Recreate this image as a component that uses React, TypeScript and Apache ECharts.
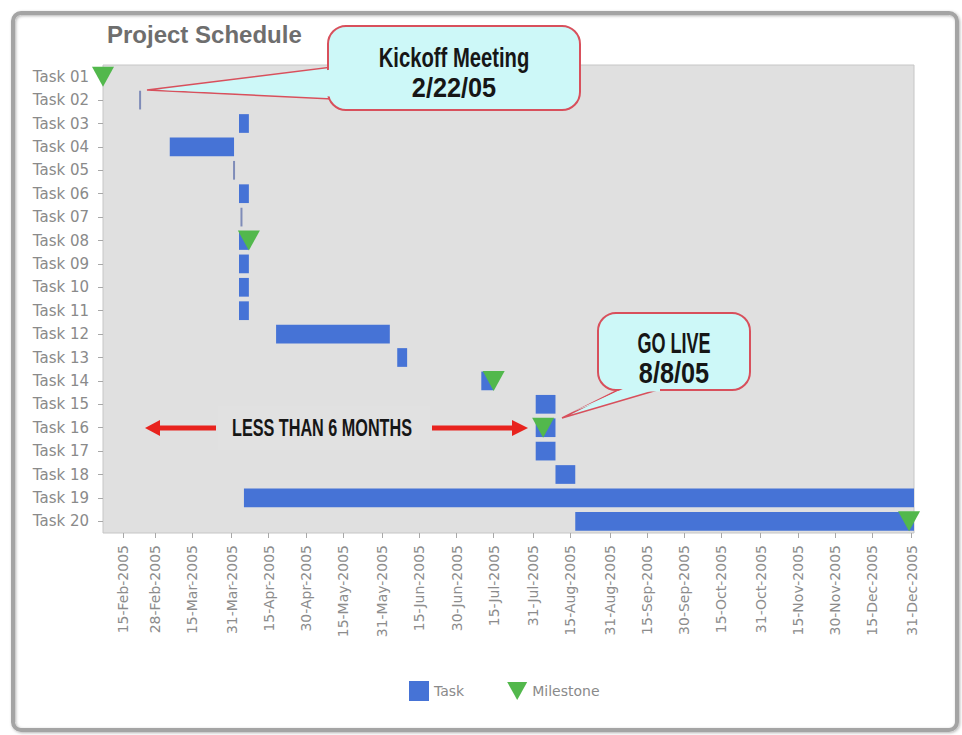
import React, { useEffect, useRef } from 'react';
import * as echarts from 'echarts';

// ---------- data ----------
const taskNames = [
  'Task 01', 'Task 02', 'Task 03', 'Task 04', 'Task 05', 'Task 06', 'Task 07', 'Task 08', 'Task 09', 'Task 10',
  'Task 11', 'Task 12', 'Task 13', 'Task 14', 'Task 15', 'Task 16', 'Task 17', 'Task 18', 'Task 19', 'Task 20',
];
const taskStarts: (string | null)[] = [
  null, '2005-02-22', '2005-04-03', '2005-03-06', '2005-04-01', '2005-04-03', '2005-04-04', '2005-04-03', '2005-04-03', '2005-04-03',
  '2005-04-03', '2005-04-18', '2005-06-06', '2005-07-10', '2005-08-01', '2005-08-01', '2005-08-01', '2005-08-09', '2005-04-05', '2005-08-17',
];
const taskEnds: (string | null)[] = [
  null, '2005-02-22', '2005-04-07', '2005-04-01', '2005-04-01', '2005-04-07', '2005-04-04', '2005-04-07', '2005-04-07', '2005-04-07',
  '2005-04-07', '2005-06-03', '2005-06-10', '2005-07-15', '2005-08-09', '2005-08-09', '2005-08-09', '2005-08-17', '2006-01-01', '2006-01-01',
];
const milestoneTasks = ['Task 01', 'Task 08', 'Task 14', 'Task 16', 'Task 20'];
const milestoneDates = ['2005-02-07', '2005-04-07', '2005-07-15', '2005-08-04', '2005-12-30'];
const tickDates = [
  '2005-02-15', '2005-02-28', '2005-03-15', '2005-03-31', '2005-04-15', '2005-04-30', '2005-05-15', '2005-05-31',
  '2005-06-15', '2005-06-30', '2005-07-15', '2005-07-31', '2005-08-15', '2005-08-31', '2005-09-15', '2005-09-30',
  '2005-10-15', '2005-10-31', '2005-11-15', '2005-11-30', '2005-12-15', '2005-12-31',
];
const axisStartDate = '2005-02-07';
const axisEndDate = '2006-01-01';
const monthNames = ['Jan', 'Feb', 'Mar', 'Apr', 'May', 'Jun', 'Jul', 'Aug', 'Sep', 'Oct', 'Nov', 'Dec'];
const titleText = 'Project Schedule';
const kickoffLines = ['Kickoff Meeting', '2/22/05'];
const goLiveLines = ['GO LIVE', '8/8/05'];
const spanText = 'LESS THAN 6 MONTHS';

// ---------- helpers ----------
const ts = (s: string) => {
  const [y, m, d] = s.split('-').map(Number);
  return Date.UTC(y, m - 1, d);
};
const fmt = (v: number) => {
  const d = new Date(v);
  return `${d.getUTCDate()}-${monthNames[d.getUTCMonth()]}-${d.getUTCFullYear()}`;
};

const BLUE = '#4673d6';
const GREEN = '#52b84c';
const CYAN = '#cdf8f8';
const RED_LINE = '#d8505c';
const ARROW = '#e8231e';
const TRI = 'path://M0,0L20,0L10,18Z';

const calloutFont = { fontSize: 22, fontWeight: 'bold', fontFamily: '"Liberation Sans", Arial, sans-serif' };

function calloutText(text: string, x: number, y: number, sx: number, sy: number, size = 22) {
  return {
    type: 'text', x, y, scaleX: sx, scaleY: sy, z: 110, silent: true,
    style: { text, x: 0, y: 0, ...calloutFont, fontSize: size, fill: '#161616', align: 'center', verticalAlign: 'middle' },
  };
}

export default function App() {
  const ref = useRef<HTMLDivElement>(null);

  useEffect(() => {
    if (!ref.current) return;
    const chart = echarts.init(ref.current, undefined, { renderer: 'svg' });

    const taskData: any[] = [];
    taskNames.forEach((_, i) => {
      const s = taskStarts[i];
      const e = taskEnds[i];
      if (s && e) taskData.push([i, ts(s), ts(e)]);
    });
    const msData = milestoneTasks.map((t, i) => [ts(milestoneDates[i]), t]);
    const ticks = tickDates.map(ts);

    const option: any = {
      animation: false,
      backgroundColor: '#ffffff',
      title: {
        text: titleText,
        left: 102,
        top: 17,
        textStyle: { fontSize: 24, fontWeight: 'bold', color: '#6e6e6e', fontFamily: '"Liberation Sans", Arial, sans-serif' },
      },
      legend: {
        left: 404,
        top: 676,
        itemWidth: 20,
        itemHeight: 20,
        itemGap: 43,
        textStyle: { color: '#8a8a8a', fontSize: 14, fontFamily: '"DejaVu Sans", sans-serif' },
        data: [
          { name: 'Task', icon: 'rect', itemStyle: { color: BLUE } },
          { name: 'Milestone', icon: TRI, itemStyle: { color: GREEN } },
        ],
      },
      grid: {
        left: 103,
        top: 65,
        width: 811,
        height: 468,
        show: true,
        backgroundColor: '#e0e0e0',
        borderColor: '#c6c6c6',
        borderWidth: 1,
      },
      xAxis: {
        type: 'value',
        min: ts(axisStartDate),
        max: ts(axisEndDate),
        axisLine: { show: false },
        splitLine: { show: false },
        axisTick: { show: true, length: 5, customValues: ticks, lineStyle: { color: '#a8a8a8' } },
        axisLabel: {
          customValues: ticks,
          rotate: 90,
          margin: 12,
          formatter: (v: number) => fmt(v),
          color: '#8c8c8c',
          fontSize: 14,
          fontFamily: '"DejaVu Sans", sans-serif',
        },
      },
      yAxis: {
        type: 'category',
        data: taskNames,
        inverse: true,
        axisLine: { show: false },
        splitLine: { show: false },
        axisTick: { show: true, length: 5, alignWithLabel: true, lineStyle: { color: '#a8a8a8' } },
        axisLabel: { color: '#8a8a8a', fontSize: 15, fontFamily: '"DejaVu Sans", sans-serif', margin: 14 },
      },
      series: [
        {
          name: 'Task',
          type: 'custom',
          itemStyle: { color: BLUE },
          encode: { x: [1, 2], y: 0 },
          data: taskData,
          renderItem: (params: any, api: any) => {
            const cat = api.value(0);
            const s = api.coord([api.value(1), cat]);
            const e = api.coord([api.value(2), cat]);
            const h = api.size([0, 1])[1] * 0.8;
            const w = e[0] - s[0];
            const thin = w < 1;
            return {
              type: 'rect',
              shape: { x: thin ? s[0] - 1 : s[0], y: s[1] - h / 2, width: thin ? 2 : w, height: h },
              style: { fill: thin ? '#7f8cb8' : BLUE },
            };
          },
        },
        {
          name: 'Milestone',
          type: 'scatter',
          symbol: TRI,
          symbolSize: [22, 20],
          clip: false,
          itemStyle: { color: GREEN, opacity: 1 },
          data: msData,
        },
      ],
      graphic: [
        // outer frame
        {
          type: 'rect', silent: true, z: 0,
          shape: { x: 13, y: 13, width: 944, height: 717, r: 8 },
          style: { fill: 'none', stroke: '#a4a4a4', lineWidth: 4, shadowBlur: 3, shadowColor: 'rgba(0,0,0,0.3)', shadowOffsetX: 1, shadowOffsetY: 1 },
        },
        // kickoff callout
        {
          type: 'polygon', silent: true, z: 100,
          shape: { points: [[147, 90], [332, 67], [332, 99]] },
          style: { fill: CYAN, stroke: RED_LINE, lineWidth: 1.5 },
        },
        {
          type: 'rect', silent: true, z: 101,
          shape: { x: 328, y: 26, width: 252, height: 84, r: 18 },
          style: { fill: CYAN, stroke: RED_LINE, lineWidth: 2 },
        },
        {
          type: 'polygon', silent: true, z: 102,
          shape: { points: [[160, 90], [332, 69.5], [332, 96.5]] },
          style: { fill: CYAN },
        },
        calloutText(kickoffLines[0], 454, 57, 0.92, 1.28),
        calloutText(kickoffLines[1], 454, 88, 1.15, 1.28),
        // go live callout
        {
          type: 'polygon', silent: true, z: 100,
          shape: { points: [[562, 418], [622, 388], [664, 388]] },
          style: { fill: CYAN, stroke: RED_LINE, lineWidth: 1.5 },
        },
        {
          type: 'rect', silent: true, z: 101,
          shape: { x: 598, y: 313, width: 152, height: 77, r: 18 },
          style: { fill: CYAN, stroke: RED_LINE, lineWidth: 2 },
        },
        {
          type: 'polygon', silent: true, z: 102,
          shape: { points: [[572, 412], [625, 388], [660, 388], [660, 391.5], [625, 391.5]] },
          style: { fill: CYAN },
        },
        calloutText(goLiveLines[0], 674, 343, 0.82, 1.3),
        calloutText(goLiveLines[1], 674, 373, 1.15, 1.3),
        // span annotation
        {
          type: 'rect', silent: true, z: 99,
          shape: { x: 218, y: 406, width: 212, height: 44 },
          style: { fill: 'rgba(255,255,255,0.06)' },
        },
        calloutText(spanText, 322, 428, 0.9, 1.3, 18),
        {
          type: 'line', silent: true, z: 100,
          shape: { x1: 216, y1: 428, x2: 158, y2: 428 },
          style: { stroke: ARROW, lineWidth: 5 },
        },
        {
          type: 'polygon', silent: true, z: 100,
          shape: { points: [[145, 428], [160, 420], [160, 436]] },
          style: { fill: ARROW },
        },
        {
          type: 'line', silent: true, z: 100,
          shape: { x1: 432, y1: 428, x2: 514, y2: 428 },
          style: { stroke: ARROW, lineWidth: 5 },
        },
        {
          type: 'polygon', silent: true, z: 100,
          shape: { points: [[528, 428], [512, 420], [512, 436]] },
          style: { fill: ARROW },
        },
      ],
    };

    chart.setOption(option);
    return () => chart.dispose();
  }, []);

  return (
    <div
      ref={ref}
      style={{ position: 'fixed', left: 0, top: 0, width: 962, height: 735, background: '#fff' }}
    />
  );
}
